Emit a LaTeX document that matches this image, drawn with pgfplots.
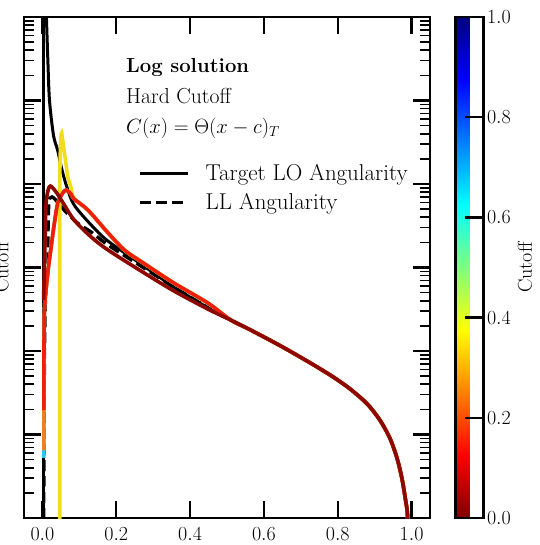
\RequirePackage{fix-cm}
\documentclass[border=0pt]{standalone}
\usepackage{pgfplots}
\pgfplotsset{compat=1.18}
\definecolor{cdred}{RGB}{140,8,0}
\definecolor{cred}{RGB}{238,32,12}
\definecolor{cyel}{RGB}{240,222,30}
\definecolor{corg}{RGB}{236,128,36}
\definecolor{ccyan}{RGB}{40,200,240}
\newcommand{\tfont}{\fontsize{20}{24}\selectfont}
\begin{document}
\begin{tikzpicture}
\begin{axis}[
  name=main,
  scale only axis,
  width=406pt, height=501pt,
  xmin=-0.05, xmax=1.05,
  ymode=log, ymin=1e-3, ymax=1e3,
  xtick={0,0.2,0.4,0.6,0.8,1.0},
  xticklabel style={yshift=-6pt, /pgf/number format/.cd, fixed, fixed zerofill, precision=1},
  ytick={1e-3,1e-2,1e-1,1,1e1,1e2,1e3},
  yticklabels={},
  tick label style={font=\tfont},
  tick align=inside,
  major tick length=17pt,
  minor tick length=10pt,
  major tick style={line width=2.4pt, black},
  minor tick style={line width=1.6pt, black},
  axis line style={line width=2.6pt},
  ylabel={Cutoff},
  ylabel style={font=\tfont, at={(axis description cs:-0.037,0.5)}, anchor=south, inner sep=0pt},
  colormap={jetr}{rgb255(0cm)=(128,0,0); rgb255(1cm)=(255,0,0); rgb255(3cm)=(255,255,0); rgb255(5cm)=(0,255,255); rgb255(7cm)=(0,0,255); rgb255(8cm)=(0,0,128)},
  colorbar,
  point meta min=0, point meta max=1,
  colorbar style={
    width=28pt,
    at={(parent axis.north east)}, anchor=north west, xshift=17pt,
    ytick={0,0.2,0.4,0.6,0.8,1.0},
    yticklabel style={font=\tfont, /pgf/number format/.cd, fixed, fixed zerofill, precision=1},
    ytick pos=right,
    yticklabel pos=right,
    tick align=inside,
    major tick length=19pt,
    major tick style={line width=2.4pt, black},
    axis line style={line width=2.6pt},
    ylabel={Cutoff},
    ylabel style={font=\tfont},
  },
  legend style={draw=none, fill=none, at={(axis description cs:0.2808,0.6587)}, anchor=west,
    font=\fontsize{22.9}{27}\selectfont, row sep=7.5pt, column sep=14pt, inner sep=0pt},
  legend cell align=left,
  legend image code/.code={\draw[#1] (0pt,0pt) -- (48pt,0pt);},
]
% Target LO Angularity
\addplot[black, line width=3pt, smooth, tension=0.5] coordinates {
(0.0095,1500) (0.011,920) (0.0146,305) (0.019,101) (0.030,38) (0.041,25.5) (0.053,14.7) (0.067,8.95) (0.0857,5.61) (0.132,3.23) (0.1776,2.07) (0.267,1.10) (0.356,0.583) (0.448,0.33)
(0.510,0.235) (0.555,0.187) (0.599,0.148) (0.650,0.112) (0.699,0.0843) (0.744,0.0644) (0.789,0.0484) (0.834,0.035) (0.880,0.0232) (0.915,0.0147) (0.942,0.00889) (0.961,0.00514) (0.974,0.00297) (0.983,0.00172) (0.989,0.00109) (0.991,0.0004)
};
\addlegendentry{Target LO Angularity}
\addplot[black, line width=3pt, forget plot] coordinates {(0.004,0.0004) (0.004,2000)};
% LL Angularity
\addplot[black, line width=3.4pt, dash pattern=on 11pt off 5pt, smooth, tension=0.5] coordinates {
(0.003,0.0004) (0.005,0.05) (0.008,0.4) (0.0146,0.93) (0.0152,3.0) (0.017,5.6) (0.020,6.8) (0.026,7.0) (0.035,6.5) (0.0586,4.89) (0.0957,3.38) (0.132,2.66) (0.1776,1.86) (0.267,1.04) (0.356,0.583) (0.448,0.33)
(0.510,0.235) (0.555,0.187) (0.599,0.148) (0.650,0.112) (0.699,0.0843) (0.744,0.0644) (0.789,0.0484) (0.834,0.035) (0.880,0.0232) (0.915,0.0147) (0.942,0.00889) (0.961,0.00514) (0.974,0.00297) (0.983,0.00172) (0.989,0.00109) (0.991,0.0004)
};
\addlegendentry{LL Angularity}
% cutoff ~0.68
\addplot[ccyan, line width=3.6pt, forget plot, smooth, tension=0.5] coordinates {
(0.004,0.00524) (0.004,0.078) (0.0046,0.178) (0.006,0.356) (0.0146,0.883) (0.0235,1.76) (0.0316,3.23) (0.0416,5.92) (0.055,7.80) (0.064,8.47) (0.0776,7.59) (0.0857,6.61) (0.123,4.89) (0.1776,2.6) (0.222,1.62) (0.267,1.18) (0.356,0.652) (0.448,0.376)
(0.510,0.235) (0.555,0.187) (0.599,0.148) (0.650,0.112) (0.699,0.0843) (0.744,0.0644) (0.789,0.0484) (0.834,0.035) (0.880,0.0232) (0.915,0.0147) (0.942,0.00889) (0.961,0.00514) (0.974,0.00297) (0.983,0.00172) (0.989,0.00109) (0.991,0.0004)
};
% cutoff ~0.22
\addplot[corg, line width=3.6pt, forget plot, smooth, tension=0.5] coordinates {
(0.004,0.00652) (0.004,0.078) (0.0046,0.178) (0.006,0.356) (0.0146,0.883) (0.0235,1.76) (0.0316,3.23) (0.0416,5.92) (0.055,7.80) (0.064,8.47) (0.0776,7.59) (0.0857,6.61) (0.123,4.89) (0.1776,2.6) (0.222,1.62) (0.267,1.18) (0.356,0.652) (0.448,0.376)
(0.510,0.235) (0.555,0.187) (0.599,0.148) (0.650,0.112) (0.699,0.0843) (0.744,0.0644) (0.789,0.0484) (0.834,0.035) (0.880,0.0232) (0.915,0.0147) (0.942,0.00889) (0.961,0.00514) (0.974,0.00297) (0.983,0.00172) (0.989,0.00109) (0.991,0.0004)
};
% cutoff ~0.35
\addplot[cyel, line width=3.6pt, forget plot, smooth, tension=0.5] coordinates {
(0.047,0.0004) (0.047,5) (0.048,20) (0.050,36) (0.052,40.8) (0.055,33) (0.0586,25.5) (0.064,17) (0.069,12.1) (0.0776,9.0) (0.0857,6.7) (0.123,4.89) (0.1776,2.6) (0.222,1.62) (0.267,1.18) (0.356,0.652) (0.448,0.376)
(0.510,0.235) (0.555,0.187) (0.599,0.148) (0.650,0.112) (0.699,0.0843) (0.744,0.0644) (0.789,0.0484) (0.834,0.035) (0.880,0.0232) (0.915,0.0147) (0.942,0.00889) (0.961,0.00514) (0.974,0.00297) (0.983,0.00172) (0.989,0.00109) (0.991,0.0004)
};
% cutoff ~0.12
\addplot[cred, line width=3.6pt, forget plot, smooth, tension=0.5] coordinates {
(0.004,0.0196) (0.004,0.078) (0.0046,0.178) (0.006,0.356) (0.0146,0.883) (0.0235,1.76) (0.0316,3.23) (0.0416,5.92) (0.055,7.80) (0.064,8.47) (0.0776,7.59) (0.0857,6.61) (0.123,4.89) (0.1776,2.6) (0.222,1.62) (0.267,1.18) (0.356,0.652) (0.448,0.376)
(0.510,0.235) (0.555,0.187) (0.599,0.148) (0.650,0.112) (0.699,0.0843) (0.744,0.0644) (0.789,0.0484) (0.834,0.035) (0.880,0.0232) (0.915,0.0147) (0.942,0.00889) (0.961,0.00514) (0.974,0.00297) (0.983,0.00172) (0.989,0.00109) (0.991,0.0004)
};
% cutoff 0
\addplot[cdred, line width=3.6pt, forget plot, smooth, tension=0.5] coordinates {
(0.003,0.408) (0.005,0.933) (0.0073,2.32) (0.010,5.92) (0.0154,8.47) (0.0216,9.46) (0.037,8.02) (0.056,5.92) (0.0857,3.71) (0.132,2.32) (0.1776,1.62) (0.267,0.908) (0.356,0.524) (0.448,0.318)
(0.510,0.235) (0.555,0.187) (0.599,0.148) (0.650,0.112) (0.699,0.0843) (0.744,0.0644) (0.789,0.0484) (0.834,0.035) (0.880,0.0232) (0.915,0.0147) (0.942,0.00889) (0.961,0.00514) (0.974,0.00297) (0.983,0.00172) (0.989,0.00109) (0.991,0.0004)
};
\node[anchor=base west, font=\bfseries\fontsize{20.3}{24}\selectfont, inner sep=0pt] at (axis description cs:0.251,0.890) {Log solution};
\node[anchor=base west, font=\fontsize{21.7}{26}\selectfont, inner sep=0pt] at (axis description cs:0.251,0.828) {Hard Cutoff};
\node[anchor=base west, font=\fontsize{20.6}{25}\selectfont, inner sep=0pt] at (axis description cs:0.251,0.768) {$C(x)=\Theta(x-c)_T$};
\end{axis}
\pgfresetboundingbox
\useasboundingbox (-24pt,-27pt) rectangle (515pt,518pt);
\end{tikzpicture}
\end{document}
